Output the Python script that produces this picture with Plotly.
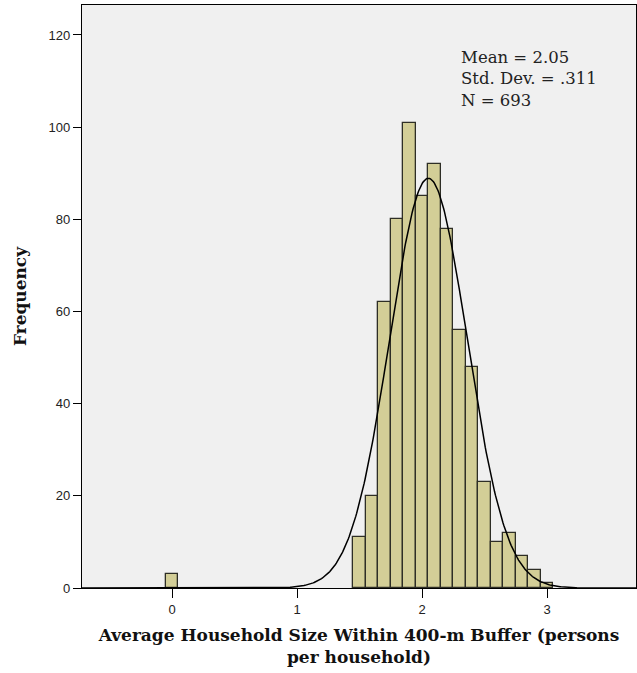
import numpy as np
import plotly.graph_objects as go

# Histogram data (bin centers, width 0.1)
bin_centers = [0.0, 1.5, 1.6, 1.7, 1.8, 1.9, 2.0, 2.1, 2.2, 2.3, 2.4, 2.5, 2.6, 2.7, 2.8, 2.9, 3.0]
frequencies = [3, 11, 20, 62, 80, 101, 85, 92, 78, 56, 48, 23, 10, 12, 7, 4, 1]
bin_width = 0.1

mean_val = 2.05
std_val = 0.311
n_val = 693

x_ticks = [0, 1, 2, 3]
y_ticks = [0, 20, 40, 60, 80, 100, 120]

# Normal curve scaled to histogram
xc = np.linspace(-0.72, 3.71, 600)
yc = n_val * bin_width * np.exp(-0.5 * ((xc - mean_val) / std_val) ** 2) / (std_val * np.sqrt(2 * np.pi))

fig = go.Figure()
fig.add_trace(go.Bar(
    x=bin_centers, y=frequencies, width=bin_width,
    marker=dict(color="#D3CE97", line=dict(color="#2e2e26", width=1.3)),
    showlegend=False, hoverinfo="x+y"
))
fig.add_trace(go.Scatter(
    x=xc, y=yc, mode="lines",
    line=dict(color="black", width=1.5), showlegend=False, hoverinfo="skip"
))

fig.update_layout(
    width=637, height=673,
    margin=dict(l=82, r=1, t=5, b=85),
    paper_bgcolor="white", plot_bgcolor="#F0F0F0",
    font=dict(family="Liberation Sans, Arial, sans-serif", size=13, color="#222"),
    bargap=0,
    annotations=[dict(
        x=(459 - 82) / (636 - 82), y=1 - (46 - 5) / (588 - 5),
        xref="paper", yref="paper", showarrow=False,
        text="Mean = 2.05<br>Std. Dev. = .311<br>N = 693",
        xanchor="left", yanchor="top", align="left",
        font=dict(family="DejaVu Serif, serif", size=16.5, color="#222"),
    )],
)

fig.update_xaxes(
    range=[-0.72, 3.71], tickvals=x_ticks, ticktext=[str(v) for v in x_ticks],
    showgrid=False, zeroline=False, showline=True, linecolor="black", linewidth=1.2,
    mirror=True, ticks="outside", ticklen=9, tickcolor="black",
    title=dict(text="<b>Average Household Size Within 400-m Buffer (persons<br>per household)</b>",
               font=dict(family="DejaVu Serif, serif", size=17, color="#111"), standoff=13),
)
fig.update_yaxes(
    range=[0, 126.5], tickvals=y_ticks, ticktext=[str(v) for v in y_ticks],
    showgrid=False, zeroline=False, showline=True, linecolor="black", linewidth=1.2,
    mirror=True, ticks="outside", ticklen=8, tickcolor="black",
    title=dict(text="<b>Frequency</b>",
               font=dict(family="DejaVu Serif, serif", size=17, color="#111"), standoff=17),
)

fig.write_html("out.html")
